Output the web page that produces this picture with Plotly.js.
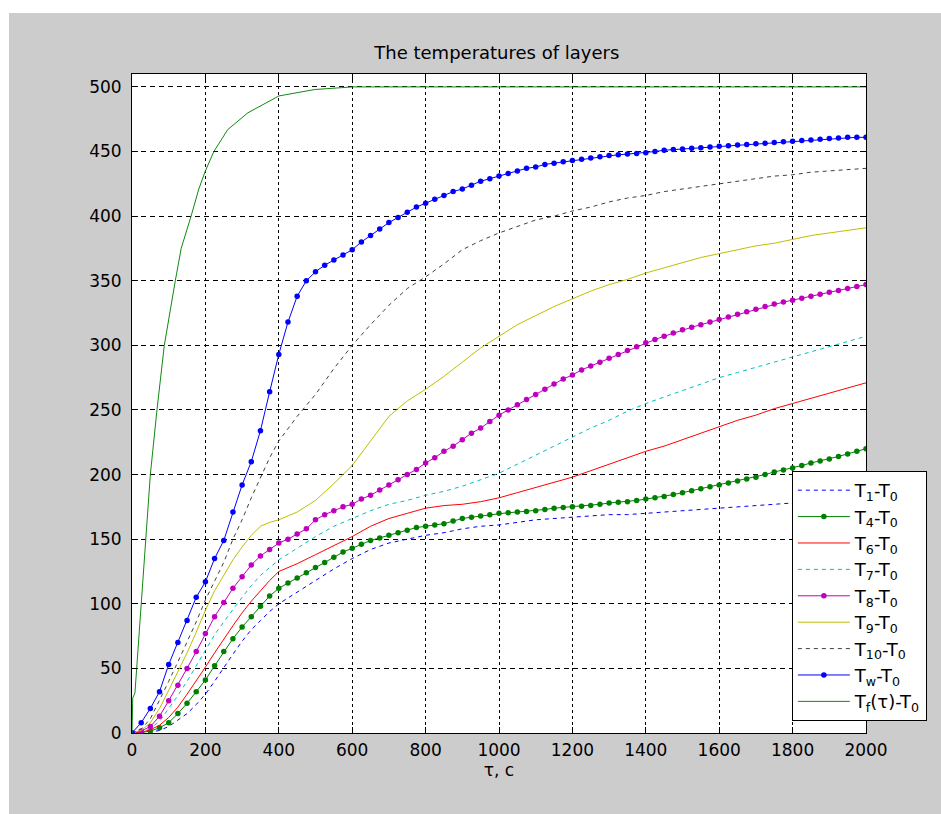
<!DOCTYPE html>
<html>
<head>
<meta charset="utf-8">
<script src="https://cdn.plot.ly/plotly-3.0.1.min.js"></script>
<style>
  html, body { margin: 0; padding: 0; background: #ffffff; width: 941px; height: 814px; overflow: hidden; }
  #chart { position: absolute; left: 9px; top: 13px; width: 932px; height: 801px; }
</style>
</head>
<body>
<div id="chart"></div>
<script>
// time, s (grid for the plain-line layer curves)
const tau = [0,25,50,75,100,125,150,175,200,225,250,275,300,325,350,375,400,
  450,500,550,600,650,700,750,800,850,900,950,1000,1050,1100,1150,1200,1250,1300,
  1350,1400,1450,1500,1550,1600,1650,1700,1750,1800,1850,1900,1950,2000];

const T1 = [0,0,0.5,2,5,10,15,22,30,40,51,61,71,80,87,94,100,
  109,118,127,135,142,147,150,153,155,158,160,161,163,165,166,167,168,169,
  169,170,171,172,173,174,175,176,177,178,179,180,180,181];
const T6 = [0,0.5,2.5,6,12,20,30,40,51,62,73,83,93,102,110,118,125,
  131,138,145,152,160,166,170,174,176,177,179,182,186,190,194,198,203,208,
  213,218,222,227,232,237,242,246,251,255,259,263,267,271];
const T7 = [0,1,3.5,9,19,29,40,52,64,76,86,96,105,114,122,128,134,
  143,152,160,166,172,177,180,184,187,191,196,201,208,215,222,229,236,242,
  249,255,260,265,270,275,279,283,287,291,295,299,303,307];
const T9 = [0,2,8,19,33,47,62,78,95,110,122,134,144,153,160,163,165,
  171,180,193,207,226,245,257,266,276,287,298,307,316,323,330,336,342,347,
  351,356,360,364,368,371,374,377,379,382,385,387,389,391];
const T10 = [0,3,11,25,40,55,70,86,103,118,132,150,165,182,198,213,226,
  245,262,282,300,316,331,344,353,363,374,381,387,392,397,400,404,407,411,
  414,416,419,421,423,425,427,429,431,432,434,435,436,437];

// time, s (grid for the dotted-marker curves)
const tauM = [0,25,50,75,100,125,150,175,200,225,250,275,300,325,350,375,400,
  425,450,475,500,525,550,575,600,625,650,675,700,725,750,775,800,825,850,875,
  900,925,950,975,1000,1025,1050,1075,1100,1125,1150,1175,1200,1225,1250,1275,
  1300,1325,1350,1375,1400,1425,1450,1475,1500,1525,1550,1575,1600,1625,1650,
  1675,1700,1725,1750,1775,1800,1825,1850,1875,1900,1925,1950,1975,2000];

const T4 = [0,0.3,1.5,4,8,15,23,32,41,52,63,73,82,90,98,106,112,
  116,120,124,128,132,136,140,143,146,149,151,153,155,157,159,160,161,162,164,
  166,167,168,169,170,170.5,171,171.5,172,173,174,174.5,175,175.5,176,177,
  178,178.5,179,180,181,182,183,184.5,186,187.5,189,190.5,192,193.5,195,
  196.5,198,200,202,203.5,205,207,209,210.5,212,214,216,218,220];
const T8 = [0,1.5,5,13,25,37,50,63,77,90,101,112,121,130,137,142,147,
  150,154,158,165,169,172,175,177,181,184,188,192,196,200,204,209,213,218,222,
  227,232,236,241,246,250,254,258,262,266,270,274,277,281,284,287,
  290,293,296,299,302,304.5,307,309.5,312,314,316,318,320,322,324,
  326,328,330,332,333.5,335,336.5,338,339.5,341,342.5,344,345.5,347];
const Tw = [0,8,19,32,53,70,87,105,117,135,149,171,192,210,234,264,293,
  318,338,350,357,362,366,370,374,380,385,390,395,399,403,407,410,413,416,419,
  421,424,427,429,431,433,435,437,438,440,441,442,443,444,445,446,
  447,447.5,448,448.5,449,450,451,451.5,452,452.5,453,453.5,454,454.5,455,
  455.5,456,456.5,457,457.5,458,458.5,459,459.5,460,460.5,461,461,461];

// furnace temperature curve (own time points)
const tauF = [0,2,8,22,38,50,68,88,118,134,161,182,200,223,261,316,400,498,601,700,1000,1500,2000];
const Tf   = [0,27,31,87,150,200,250,300,350,375,400,421,435,450,467,480,493,498,500,500,500,500,500];

const names = ['T<sub>1</sub>-T<sub>0</sub>','T<sub>4</sub>-T<sub>0</sub>','T<sub>6</sub>-T<sub>0</sub>',
  'T<sub>7</sub>-T<sub>0</sub>','T<sub>8</sub>-T<sub>0</sub>','T<sub>9</sub>-T<sub>0</sub>',
  'T<sub>10</sub>-T<sub>0</sub>','T<sub>w</sub>-T<sub>0</sub>','T<sub>f</sub>(τ)-T<sub>0</sub>'];

const FONT = 'DejaVu Sans, Liberation Sans, sans-serif';
const MS = 5.5;

const traces = [
  {x: tau, y: T1, name: names[0], mode: 'lines', line: {color: '#0000ff', width: 1, dash: '4px,4px'}},
  {x: tauM, y: T4, name: names[1], mode: 'lines+markers', line: {color: '#008000', width: 1}, marker: {color: '#008000', size: MS}},
  {x: tau, y: T6, name: names[2], mode: 'lines', line: {color: '#ff0000', width: 1}},
  {x: tau, y: T7, name: names[3], mode: 'lines', line: {color: '#00bfbf', width: 1, dash: '4px,4px'}},
  {x: tauM, y: T8, name: names[4], mode: 'lines+markers', line: {color: '#bf00bf', width: 1}, marker: {color: '#bf00bf', size: MS}},
  {x: tau, y: T9, name: names[5], mode: 'lines', line: {color: '#bfbf00', width: 1}},
  {x: tau, y: T10, name: names[6], mode: 'lines', line: {color: '#404040', width: 1, dash: '4px,4px'}},
  {x: tauM, y: Tw, name: names[7], mode: 'lines+markers', line: {color: '#0000ff', width: 1}, marker: {color: '#0000ff', size: MS}},
  {x: tauF, y: Tf, name: names[8], mode: 'lines', line: {color: '#108a10', width: 1}}
];

const axisCommon = {
  showline: true, linecolor: '#000', linewidth: 1, mirror: 'ticks',
  ticks: 'inside', ticklen: 6, tickcolor: '#000',
  showgrid: true, gridcolor: '#000', gridwidth: 1,
  zeroline: false, tickfont: {family: FONT, size: 17, color: '#000'}
};

const layout = {
  width: 932, height: 801,
  paper_bgcolor: '#cccccc', plot_bgcolor: '#ffffff',
  margin: {l: 123, r: 75, t: 61, b: 81},
  showlegend: true,
  title: {text: 'The temperatures of layers', font: {family: FONT, size: 18, color: '#000'},
          x: 0.497, xref: 'paper', xanchor: 'center', y: 0.95, yanchor: 'middle'},
  xaxis: Object.assign({}, axisCommon, {
    range: [0, 2000], dtick: 200, tick0: 0, griddash: '3px,3px', ticklabelstandoff: 2,
    title: {text: 'τ, c', font: {family: FONT, size: 17, color: '#000'}, standoff: 4}
  }),
  yaxis: Object.assign({}, axisCommon, {
    range: [0, 510], dtick: 50, tick0: 0, griddash: '5px,4px', ticklabelstandoff: 6
  }),
  legend: {
    x: 0.899, xanchor: 'left', y: 0.3976, yanchor: 'top',
    bgcolor: '#ffffff', bordercolor: '#000', borderwidth: 1,
    font: {family: FONT, size: 18, color: '#000'},
    tracegroupgap: 0, itemwidth: 52
  }
};

Plotly.newPlot('chart', traces, layout, {displayModeBar: false, staticPlot: true});
</script>
</body>
</html>
